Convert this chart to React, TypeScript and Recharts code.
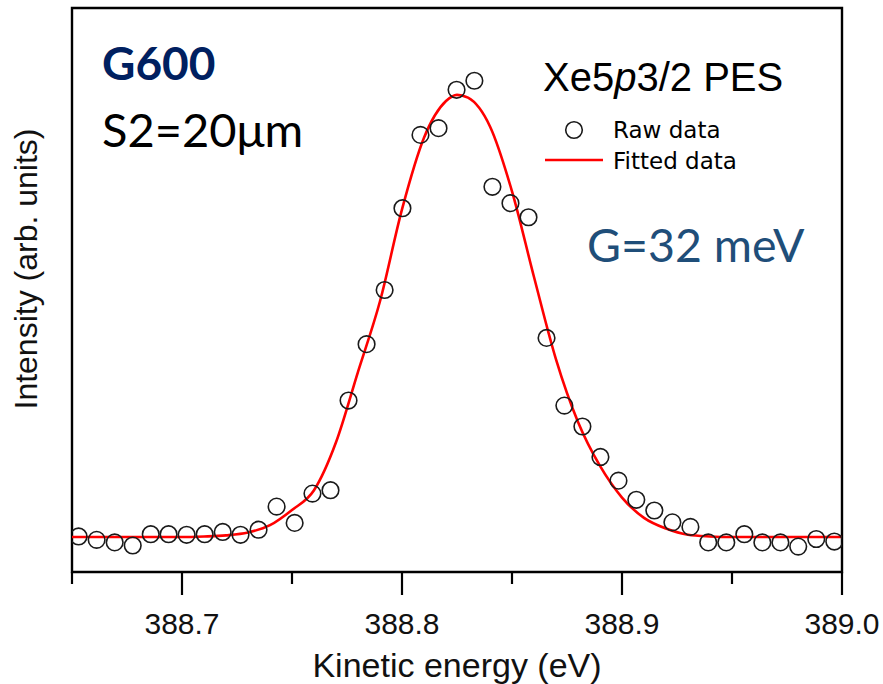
import React from "react"
import { ComposedChart, Scatter, Line, XAxis, YAxis, ReferenceArea } from "recharts"

// raw photoelectron counts (arb. units) vs kinetic energy (eV)
const rawEnergy = [
  388.653, 388.6612, 388.6694, 388.6776, 388.6858, 388.6939, 388.7021, 388.7103,
  388.7185, 388.7266, 388.7348, 388.743, 388.7512, 388.7593, 388.7675, 388.7757,
  388.7839, 388.7921, 388.8002, 388.8084, 388.8166, 388.8248, 388.8329, 388.8411,
  388.8493, 388.8575, 388.8657, 388.8738, 388.882, 388.8902, 388.8984, 388.9065,
  388.9147, 388.9229, 388.9311, 388.9392, 388.9474, 388.9556, 388.9638, 388.972,
  388.9801, 388.9883, 388.9965,
]
const rawIntensity = [
  6.3, 5.7, 5.25, 4.7, 6.7, 6.7, 6.6, 6.7,
  7.1, 6.6, 7.5, 11.6, 8.7, 13.9, 14.5, 30.4,
  40.4, 50.0, 64.5, 77.5, 78.7, 85.5, 87.1, 68.3,
  65.4, 62.9, 41.5, 29.5, 25.8, 20.4, 16.2, 12.8,
  10.9, 8.8, 8.0, 5.25, 5.25, 6.7, 5.25, 5.25,
  4.5, 5.85, 5.4,
]

// fitted curve
const fitEnergy = [
  388.65, 388.66, 388.67, 388.68, 388.69, 388.7, 388.71, 388.72, 388.73, 388.74,
  388.75, 388.76, 388.77, 388.78, 388.79, 388.8, 388.81, 388.82, 388.825, 388.83,
  388.84, 388.85, 388.86, 388.87, 388.88, 388.89, 388.9, 388.91, 388.92, 388.93,
  388.94, 388.95, 388.96, 388.97, 388.98, 388.99, 389.0,
]
const fitIntensity = [
  6.2, 6.2, 6.2, 6.2, 6.2, 6.2, 6.3, 6.5, 7.0, 8.3,
  11.0, 14.5, 23.0, 35.5, 48.0, 64.3, 77.0, 83.5, 84.6, 84.1,
  79.0, 67.5, 52.3, 37.7, 26.6, 18.8, 13.2, 9.6, 7.7, 6.6,
  6.3, 6.2, 6.2, 6.2, 6.2, 6.2, 6.2,
]

const xTicks = [388.65, 388.7, 388.75, 388.8, 388.85, 388.9, 388.95, 389.0]
const majorTicks = [388.7, 388.8, 388.9, 389.0]

const rawData = rawEnergy.map((e, i) => ({ e, v: rawIntensity[i] }))
const fitData = fitEnergy.map((e, i) => ({ e, v: fitIntensity[i] }))

const AxisTick = (props: any) => {
  const { x, y, payload } = props
  const major = majorTicks.some((t) => Math.abs(t - payload.value) < 1e-6)
  return (
    <g>
      <line x1={x} x2={x} y1={y} y2={y + (major ? 23 : 12)} stroke="#000" strokeWidth={2.2} />
      {major && (
        <text
          x={x}
          y={y + 62}
          textAnchor="middle"
          fontSize={30}
          fontFamily="'Liberation Sans', Arial, sans-serif"
          fill="#111"
        >
          {Number(payload.value).toFixed(1)}
        </text>
      )}
    </g>
  )
}

const OpenCircle = (props: any) => {
  const { cx, cy } = props
  return <circle cx={cx} cy={cy} r={8.3} fill="none" stroke="#1a1a1a" strokeWidth={1.6} />
}

export default function App() {
  return (
    <div style={{ position: "absolute", left: 0, top: 0, background: "#fff" }}>
      <ComposedChart
        width={883}
        height={684}
        margin={{ top: 8, right: 41, left: 72, bottom: 52 }}
      >
        <XAxis
          type="number"
          dataKey="e"
          domain={[388.65, 389.0]}
          ticks={xTicks}
          allowDataOverflow
          axisLine={false}
          tickLine={false}
          tickSize={0}
          tickMargin={0}
          height={60}
          interval={0}
          tick={<AxisTick />}
        />
        <YAxis type="number" dataKey="v" domain={[0, 100]} hide width={0} allowDataOverflow />
        <ReferenceArea
          x1={388.65}
          x2={389.0}
          y1={0}
          y2={100}
          fill="none"
          stroke="#000"
          strokeWidth={2.4}
          ifOverflow="visible"
        />
        <Scatter
          data={rawData}
          dataKey="v"
          shape={<OpenCircle />}
          isAnimationActive={false}
        />
        <Line
          data={fitData}
          dataKey="v"
          type="monotone"
          stroke="#ff0000"
          strokeWidth={2.6}
          dot={false}
          activeDot={false}
          isAnimationActive={false}
        />

        <text x={102} y={80} fontSize={46} fontWeight="bold" fontFamily="Lato, 'Open Sans', sans-serif" fill="#002060">
          G600
        </text>
        <text x={102} y={147} fontSize={47} fontFamily="Lato, 'Open Sans', sans-serif" fill="#000">
          S2=20μm
        </text>
        <text x={543} y={91} fontSize={40} fontFamily="'Liberation Sans', Arial, sans-serif" fill="#000">
          Xe5<tspan fontStyle="italic">p</tspan>3/2 PES
        </text>
        <circle cx={574} cy={130} r={8.3} fill="none" stroke="#1a1a1a" strokeWidth={1.6} />
        <text x={613} y={138} fontSize={23} fontFamily="'DejaVu Sans', sans-serif" fill="#000">
          Raw data
        </text>
        <line x1={545} x2={603} y1={160} y2={160} stroke="#ff0000" strokeWidth={2.6} />
        <text x={613} y={169} fontSize={23} fontFamily="'DejaVu Sans', sans-serif" fill="#000">
          Fitted data
        </text>
        <text x={587} y={262} fontSize={46.5} fontFamily="Lato, 'Open Sans', sans-serif" fill="#1F4E79">
          G=32 meV
        </text>
        <text
          x={37}
          y={269}
          transform="rotate(-90, 37, 269)"
          textAnchor="middle"
          fontSize={32}
          fontFamily="'Liberation Sans', Arial, sans-serif"
          fill="#111"
        >
          Intensity (arb. units)
        </text>
        <text
          x={457}
          y={677}
          textAnchor="middle"
          fontSize={34}
          fontFamily="'Liberation Sans', Arial, sans-serif"
          fill="#111"
        >
          Kinetic energy (eV)
        </text>
      </ComposedChart>
    </div>
  )
}
